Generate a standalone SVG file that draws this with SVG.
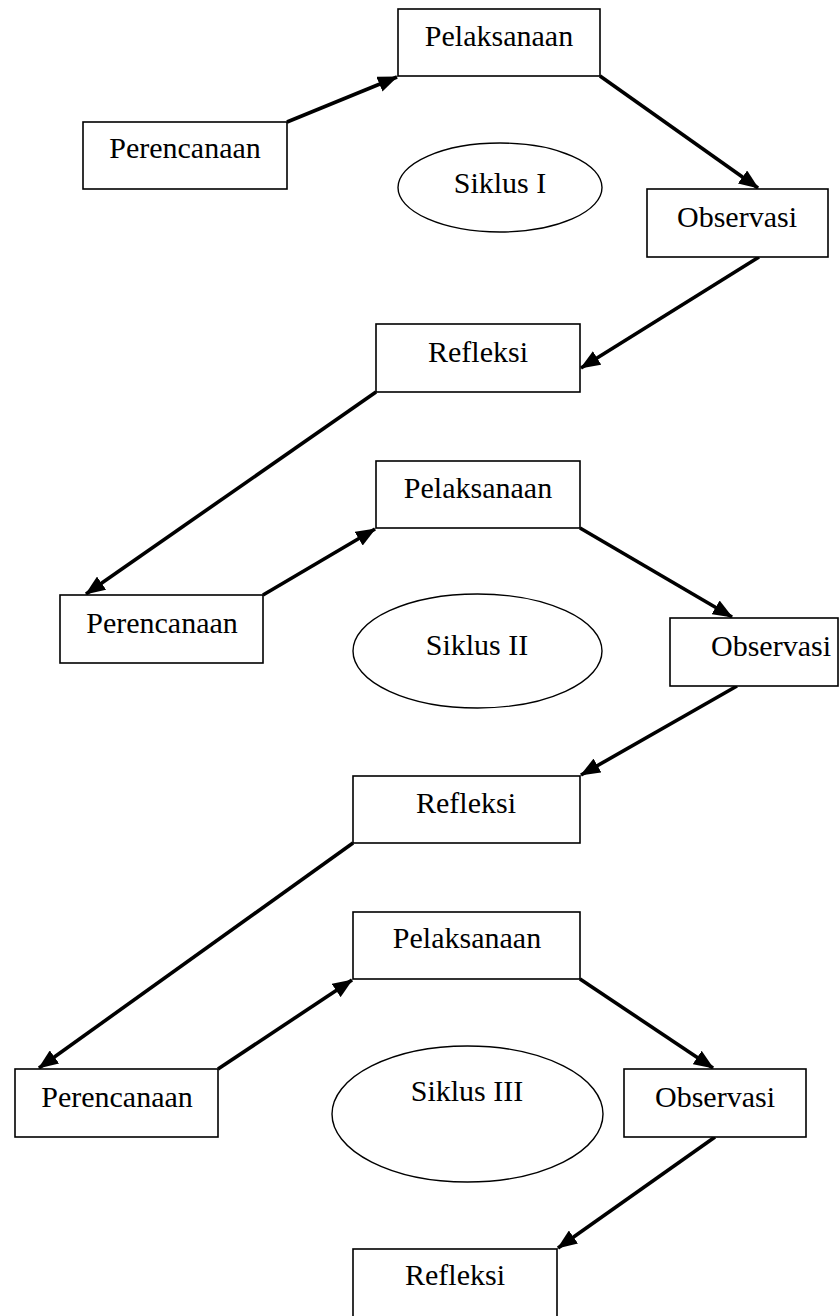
<svg xmlns="http://www.w3.org/2000/svg" width="840" height="1316" viewBox="0 0 840 1316">
<style>
.box{fill:#fff;stroke:#000;stroke-width:1.6}
.ell{fill:#fff;stroke:#000;stroke-width:1.4}
.t{font-family:"Liberation Serif","Times New Roman",serif;font-size:30px;fill:#000;text-anchor:middle}
.c{stroke:#000;stroke-width:3.6;fill:none;marker-end:url(#ah)}
</style>
<defs>
<marker id="ah" viewBox="0 0 20 16" refX="19" refY="8" markerWidth="20" markerHeight="16" markerUnits="userSpaceOnUse" orient="auto">
<path d="M0,0 L20,8 L0,16 z" fill="#000"/>
</marker>
</defs>
<rect width="840" height="1316" fill="#fff"/>
<g id="connectors">
<line class="c" x1="287" y1="122" x2="397" y2="77"/>
<line class="c" x1="600" y1="76" x2="758" y2="188"/>
<line class="c" x1="759" y1="257" x2="581" y2="368"/>
<line class="c" x1="376" y1="392" x2="86" y2="594"/>
<line class="c" x1="263" y1="595" x2="375" y2="529"/>
<line class="c" x1="580" y1="528" x2="732" y2="617"/>
<line class="c" x1="737" y1="686" x2="581" y2="775"/>
<line class="c" x1="353" y1="843" x2="39" y2="1068"/>
<line class="c" x1="218" y1="1069" x2="352" y2="980"/>
<line class="c" x1="580" y1="979" x2="713" y2="1068"/>
<line class="c" x1="715" y1="1137" x2="558" y2="1248"/>
</g>
<g id="pelaksanaan1"><rect class="box" x="398" y="9" width="202" height="67"/><text class="t" x="499" y="46">Pelaksanaan</text></g>
<g id="perencanaan1"><rect class="box" x="83" y="122" width="204" height="67"/><text class="t" x="185" y="158">Perencanaan</text></g>
<g id="siklus1"><ellipse class="ell" cx="500" cy="187.5" rx="102" ry="44.5"/><text class="t" x="500" y="193">Siklus I</text></g>
<g id="observasi1"><rect class="box" x="647" y="189" width="181" height="68"/><text class="t" x="737" y="227">Observasi</text></g>
<g id="refleksi1"><rect class="box" x="376" y="324" width="204" height="68"/><text class="t" x="478" y="362">Refleksi</text></g>
<g id="pelaksanaan2"><rect class="box" x="376" y="461" width="204" height="67"/><text class="t" x="478" y="498">Pelaksanaan</text></g>
<g id="perencanaan2"><rect class="box" x="60" y="595" width="203" height="68"/><text class="t" x="162" y="633">Perencanaan</text></g>
<g id="siklus2"><ellipse class="ell" cx="477.5" cy="651" rx="124.5" ry="57"/><text class="t" x="477" y="655">Siklus II</text></g>
<g id="observasi2"><rect class="box" x="670" y="618" width="168" height="68"/><text class="t" x="771" y="656">Observasi</text></g>
<g id="refleksi2"><rect class="box" x="353" y="776" width="227" height="67"/><text class="t" x="466" y="813">Refleksi</text></g>
<g id="pelaksanaan3"><rect class="box" x="353" y="912" width="227" height="67"/><text class="t" x="467" y="948">Pelaksanaan</text></g>
<g id="perencanaan3"><rect class="box" x="15" y="1069" width="203" height="68"/><text class="t" x="117" y="1107">Perencanaan</text></g>
<g id="siklus3"><ellipse class="ell" cx="467.5" cy="1114" rx="135.5" ry="68"/><text class="t" x="467" y="1101">Siklus III</text></g>
<g id="observasi3"><rect class="box" x="624" y="1069" width="182" height="68"/><text class="t" x="715" y="1107">Observasi</text></g>
<g id="refleksi3"><rect class="box" x="353" y="1249" width="204" height="69"/><text class="t" x="455" y="1285">Refleksi</text></g>
</svg>
